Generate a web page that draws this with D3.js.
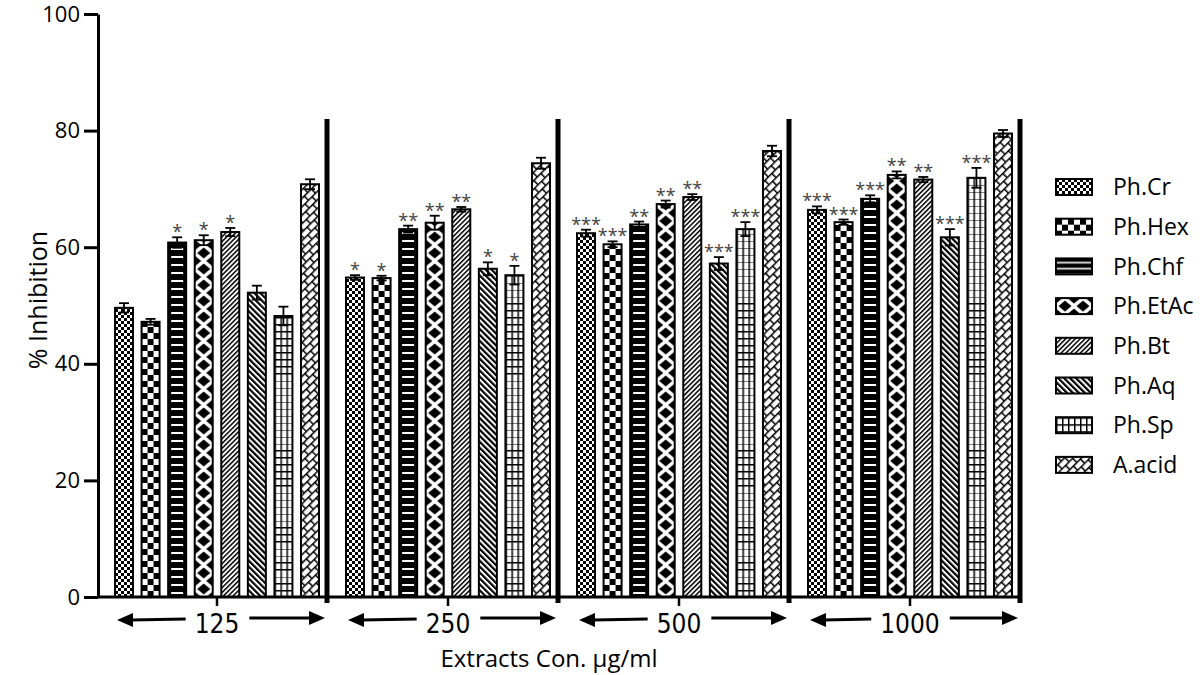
<!DOCTYPE html>
<html>
<head>
<meta charset="utf-8">
<script src="https://cdn.jsdelivr.net/npm/d3@7/dist/d3.min.js"></script>
<style>
  html, body { margin: 0; padding: 0; background: #fff; }
  svg { display: block; font-family: "Open Sans", "DejaVu Sans", sans-serif; }
</style>
</head>
<body>
<div id="chart"></div>
<script>
// ---- data ----
const groups = ['125', '250', '500', '1000'];
const series = ['Ph.Cr', 'Ph.Hex', 'Ph.Chf', 'Ph.EtAc', 'Ph.Bt', 'Ph.Aq', 'Ph.Sp', 'A.acid'];

const values125  = [49.6, 47.2, 60.8, 61.2, 62.6, 52.2, 48.2, 70.8];
const values250  = [54.8, 54.7, 63.1, 64.2, 66.5, 56.3, 55.2, 74.4];
const values500  = [62.4, 60.5, 63.9, 67.4, 68.6, 57.2, 63.1, 76.5];
const values1000 = [66.4, 64.3, 68.3, 72.4, 71.6, 61.7, 71.9, 79.5];

const errors125  = [0.8, 0.5, 0.9, 0.85, 0.7, 1.2, 1.6, 0.85];
const errors250  = [0.4, 0.4, 0.6, 1.2, 0.4, 1.1, 1.6, 0.95];
const errors500  = [0.6, 0.5, 0.5, 0.6, 0.5, 1.1, 1.2, 0.9];
const errors1000 = [0.6, 0.45, 0.6, 0.6, 0.45, 1.4, 1.7, 0.6];

const stars125  = ['', '', '*', '*', '*', '', '', ''];
const stars250  = ['*', '*', '**', '**', '**', '*', '*', ''];
const stars500  = ['***', '***', '**', '**', '**', '***', '***', ''];
const stars1000 = ['***', '***', '***', '**', '**', '***', '***', ''];

const yTicks = [0, 20, 40, 60, 80, 100];
const separatorTop = 82;

const valueTable = { '125': values125, '250': values250, '500': values500, '1000': values1000 };
const errorTable = { '125': errors125, '250': errors250, '500': errors500, '1000': errors1000 };
const starTable  = { '125': stars125, '250': stars250, '500': stars500, '1000': stars1000 };

const rows = [];
groups.forEach(g => {
  series.forEach((s, i) => {
    rows.push({ group: g, series: s, idx: i, value: valueTable[g][i], err: errorTable[g][i], star: starTable[g][i] });
  });
});

// ---- svg ----
const W = 1200, H = 675;
const svg = d3.select('#chart').append('svg').attr('width', W).attr('height', H);
const defs = svg.append('defs');

const y = d3.scaleLinear().domain([0, 100]).range([597, 14]);
const x0 = d3.scaleBand().domain(groups).range([96, 1020]).paddingInner(0).paddingOuter(0);
const x1 = d3.scaleBand().domain(series).range([19, 223]).paddingInner(0.3225);
const y0 = y(0);

// ---- fill patterns ----
const pattern = (id, w, h, transform) => {
  const p = defs.append('pattern')
    .attr('id', id)
    .attr('patternUnits', 'userSpaceOnUse')
    .attr('width', w)
    .attr('height', h);
  if (transform) p.attr('patternTransform', transform);
  return p;
};

// Ph.Cr - fine checks
let p = pattern('pCr', 6, 6);
p.append('rect').attr('width', 6).attr('height', 6).attr('fill', '#fff');
p.append('rect').attr('width', 3).attr('height', 3).attr('fill', '#000');
p.append('rect').attr('x', 3).attr('y', 3).attr('width', 3).attr('height', 3).attr('fill', '#000');

// Ph.Hex - big checks
p = pattern('pHex', 12, 12);
p.append('rect').attr('width', 12).attr('height', 12).attr('fill', '#fff');
p.append('rect').attr('width', 6).attr('height', 6).attr('fill', '#000');
p.append('rect').attr('x', 6).attr('y', 6).attr('width', 6).attr('height', 6).attr('fill', '#000');

// Ph.Chf - black with white horizontal lines (bar + legend versions)
p = pattern('pChf', 18, 8);
p.append('rect').attr('width', 18).attr('height', 8).attr('fill', '#000');
p.append('rect').attr('x', 3).attr('y', 3).attr('width', 12).attr('height', 2).attr('fill', '#fff');
p = pattern('pChfL', 36, 6);
p.append('rect').attr('width', 36).attr('height', 6).attr('fill', '#000');
p.append('rect').attr('x', 0).attr('y', 3.5).attr('width', 36).attr('height', 1.6).attr('fill', '#fff');

// Ph.EtAc - black diamonds in a white lattice
p = pattern('pEtAc', 18, 16);
p.append('rect').attr('width', 18).attr('height', 16).attr('fill', '#fff');
p.append('polygon').attr('points', '9,2.5 15.5,8 9,13.5 2.5,8').attr('fill', '#000');
[[0, 0], [18, 0], [0, 16], [18, 16]].forEach(([cx, cy]) => {
  p.append('polygon')
    .attr('points', `${cx},${cy - 5.5} ${cx + 6.5},${cy} ${cx},${cy + 5.5} ${cx - 6.5},${cy}`)
    .attr('fill', '#000');
});

// Ph.Bt - "/" hatch
p = pattern('pBt', 3.4, 10, 'rotate(45)');
p.append('rect').attr('width', 3.4).attr('height', 10).attr('fill', '#fff');
p.append('rect').attr('width', 1.5).attr('height', 10).attr('fill', '#000');

// Ph.Aq - "\" hatch, heavier
p = pattern('pAq', 4.2, 10, 'rotate(-45)');
p.append('rect').attr('width', 4.2).attr('height', 10).attr('fill', '#fff');
p.append('rect').attr('width', 2.2).attr('height', 10).attr('fill', '#000');

// Ph.Sp - grid
p = pattern('pSp', 6, 7);
p.append('rect').attr('width', 6).attr('height', 7).attr('fill', '#fff');
p.append('rect').attr('x', 0).attr('y', 0).attr('width', 1.5).attr('height', 7).attr('fill', '#000');
p.append('rect').attr('x', 0).attr('y', 0).attr('width', 6).attr('height', 1.5).attr('fill', '#000');

// A.acid - diagonal brick
p = pattern('pAcid', 10, 12, 'rotate(-45)');
p.append('rect').attr('width', 10).attr('height', 12).attr('fill', '#fff');
p.append('rect').attr('y', 0).attr('width', 10).attr('height', 1.5).attr('fill', '#000');
p.append('rect').attr('y', 6).attr('width', 10).attr('height', 1.5).attr('fill', '#000');
p.append('rect').attr('x', 0).attr('y', 0).attr('width', 1.5).attr('height', 6).attr('fill', '#000');
p.append('rect').attr('x', 5).attr('y', 6).attr('width', 1.5).attr('height', 6).attr('fill', '#000');

const fills = ['pCr', 'pHex', 'pChf', 'pEtAc', 'pBt', 'pAq', 'pSp', 'pAcid'];
const legendFills = ['pCr', 'pHex', 'pChfL', 'pEtAc', 'pBt', 'pAq', 'pSp', 'pAcid'];

// ---- bars ----
const bw = x1.bandwidth();
const bar = svg.append('g').selectAll('g.bar')
  .data(rows)
  .enter()
  .append('g')
  .attr('class', 'bar')
  .attr('transform', d => `translate(${x0(d.group) + x1(d.series)},${y0})`);

bar.append('rect')
  .attr('x', 0)
  .attr('y', d => y(d.value) - y0)
  .attr('width', bw)
  .attr('height', d => y0 - y(d.value))
  .attr('fill', d => `url(#${fills[d.idx]})`)
  .attr('stroke', '#000')
  .attr('stroke-width', 2);

// error bars
const errG = bar.append('g').attr('stroke', '#000').attr('stroke-width', 1.8);
errG.append('line')
  .attr('x1', bw / 2).attr('x2', bw / 2)
  .attr('y1', d => y(d.value + d.err) - y0)
  .attr('y2', d => y(d.value - d.err) - y0);
errG.append('line')
  .attr('x1', bw / 2 - 5).attr('x2', bw / 2 + 5)
  .attr('y1', d => y(d.value + d.err) - y0)
  .attr('y2', d => y(d.value + d.err) - y0);
errG.append('line')
  .attr('x1', bw / 2 - 5).attr('x2', bw / 2 + 5)
  .attr('y1', d => y(d.value - d.err) - y0)
  .attr('y2', d => y(d.value - d.err) - y0);

// significance stars
bar.append('text')
  .attr('x', bw / 2)
  .attr('y', d => y(d.value + d.err) - y0 + 1)
  .attr('text-anchor', 'middle')
  .style('font-size', '18px')
  .style('fill', '#444')
  .text(d => d.star);

// ---- y axis ----
const yAxis = svg.append('g')
  .attr('transform', 'translate(98,0)')
  .call(d3.axisLeft(y).tickValues(yTicks).tickSize(14).tickSizeOuter(0).tickPadding(4));
yAxis.select('.domain').attr('stroke', '#000').attr('stroke-width', 3);
yAxis.selectAll('.tick line').attr('stroke', '#000').attr('stroke-width', 3);
yAxis.selectAll('.tick text')
  .style('font-size', '22px')
  .style('font-family', '"Open Sans", sans-serif')
  .attr('fill', '#000');

svg.append('text')
  .attr('transform', 'translate(47,300) rotate(-90)')
  .attr('text-anchor', 'middle')
  .style('font-size', '25px')
  .text('% Inhibition');

// ---- x axis ----
svg.append('line')
  .attr('x1', 97).attr('x2', x0.range()[1] + 2)
  .attr('y1', y0).attr('y2', y0)
  .attr('stroke', '#000').attr('stroke-width', 3);

const groupCenter = g => x0(g) + x1(series[0]) + (x1(series[series.length - 1]) + bw - x1(series[0])) / 2;

// separators between dose groups
svg.append('g').selectAll('line')
  .data(groups)
  .enter()
  .append('line')
  .attr('x1', g => x0(g) + x0.bandwidth())
  .attr('x2', g => x0(g) + x0.bandwidth())
  .attr('y1', y(separatorTop))
  .attr('y2', y0 + 6)
  .attr('stroke', '#000')
  .attr('stroke-width', 5);

// center ticks
svg.append('g').selectAll('line')
  .data(groups)
  .enter()
  .append('line')
  .attr('x1', groupCenter).attr('x2', groupCenter)
  .attr('y1', y0).attr('y2', y0 + 9)
  .attr('stroke', '#000').attr('stroke-width', 2.5);

// dose labels with arrows
const labelY = 633;
const arrowY = 620;
const gl = svg.append('g').selectAll('g')
  .data(groups)
  .enter()
  .append('g');

gl.append('text')
  .attr('x', groupCenter)
  .attr('y', labelY)
  .attr('text-anchor', 'middle')
  .style('font-family', '"Liberation Sans Narrow", "DejaVu Sans Condensed", sans-serif')
  .style('font-size', '26px')
  .text(g => g);

gl.each(function(g) {
  const sel = d3.select(this);
  const tw = sel.select('text').node().getComputedTextLength();
  const c = groupCenter(g);
  const left = x0(g) + 21;
  const right = x0(g) + x0.bandwidth() - 2;
  const head = 16, half = 7;
  // left arrow
  sel.append('line')
    .attr('x1', left + head - 2).attr('x2', c - tw / 2 - 9)
    .attr('y1', arrowY).attr('y2', arrowY - 1)
    .attr('stroke', '#000').attr('stroke-width', 3);
  sel.append('polygon')
    .attr('points', `${left},${arrowY} ${left + head},${arrowY - half} ${left + head},${arrowY + half}`)
    .attr('fill', '#000');
  // right arrow
  sel.append('line')
    .attr('x1', c + tw / 2 + 10).attr('x2', right - head + 2)
    .attr('y1', arrowY - 2).attr('y2', arrowY - 2)
    .attr('stroke', '#000').attr('stroke-width', 3);
  sel.append('polygon')
    .attr('points', `${right},${arrowY - 2} ${right - head},${arrowY - 2 - half} ${right - head},${arrowY - 2 + half}`)
    .attr('fill', '#000');
});

svg.append('text')
  .attr('x', 549)
  .attr('y', 667)
  .attr('text-anchor', 'middle')
  .style('font-size', '24px')
  .text('Extracts Con. \u00b5g/ml');

// ---- legend ----
const legend = svg.append('g').selectAll('g')
  .data(series)
  .enter()
  .append('g')
  .attr('transform', (d, i) => `translate(1056,${187 + i * 39.7 - 8})`);

legend.append('rect')
  .attr('width', 36)
  .attr('height', 16)
  .attr('fill', (d, i) => `url(#${legendFills[i]})`)
  .attr('stroke', '#000')
  .attr('stroke-width', 2);

legend.append('text')
  .attr('x', 57)
  .attr('y', 8)
  .attr('dy', '0.36em')
  .style('font-size', '23px')
  .text(d => d);
</script>
</body>
</html>
